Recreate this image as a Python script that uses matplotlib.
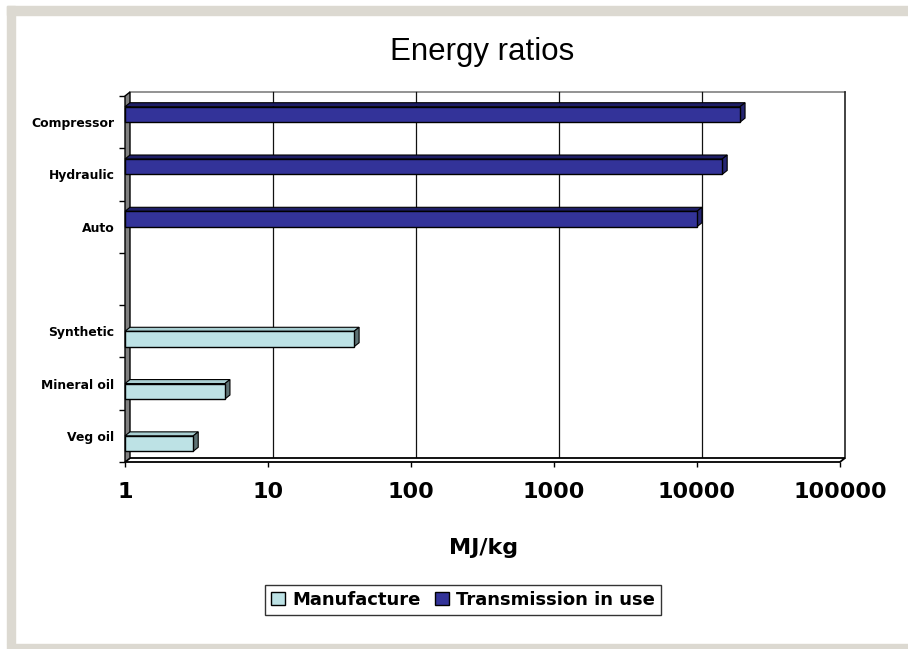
import numpy as np
import matplotlib
matplotlib.use('Agg')
import matplotlib.pyplot as plt
from matplotlib.patches import Polygon, Rectangle, Patch
from matplotlib.ticker import NullLocator

# ---------------- data ----------------
categories = ['Veg oil', 'Mineral oil', 'Synthetic', '', 'Auto', 'Hydraulic', 'Compressor']
manufacture = [3, 5, 40, np.nan, np.nan, np.nan, np.nan]
transmission = [np.nan, np.nan, np.nan, np.nan, 10000, 15000, 20000]
x_ticks = [1, 10, 100, 1000, 10000, 100000]
x_tick_labels = ['1', '10', '100', '1000', '10000', '100000']
series_names = ['Manufacture', 'Transmission in use']
title = 'Energy ratios'
xlabel = 'MJ/kg'

# ---------------- style ----------------
W, H = 908, 649
frame_c = '#dcd9d1'
manu_front, manu_top, manu_side = '#bde2e5', '#a9cfd2', '#5e7274'
trans_front, trans_top, trans_side = '#333399', '#1e1e66', '#262673'

fig = plt.figure(figsize=(W / 100, H / 100), dpi=100)
fig.patch.set_facecolor('white')

# gray frame (top, left, bottom bands)
fig.patches.append(Rectangle((7 / W, 1 - 15 / H), 1 - 7 / W, 9 / H,
                             transform=fig.transFigure, color=frame_c, zorder=0))
fig.patches.append(Rectangle((7 / W, 5 / H), 8 / W, 1 - 11 / H,
                             transform=fig.transFigure, color=frame_c, zorder=0))
fig.patches.append(Rectangle((7 / W, 0), 1 - 7 / W, 5 / H,
                             transform=fig.transFigure, color=frame_c, zorder=0))

# front plane of the plot: x 125..840 px, y 96..462 px
L, R, T, B = 125, 840, 96, 462
ax = fig.add_axes([L / W, 1 - B / H, (R - L) / W, (B - T) / H])
ax.set_xscale('log')
ax.set_xlim(x_ticks[0], x_ticks[-1])
ax.set_ylim(0, len(categories))
ax.patch.set_visible(False)
for s in ax.spines.values():
    s.set_visible(False)

ndec = np.log10(x_ticks[-1] / x_ticks[0])
ppd = (R - L) / ndec
ppu = (B - T) / len(categories)
kx = 10 ** (5 / ppd)     # 3D depth: 5 px to the right
dy = 4 / ppu             # 3D depth: 4 px up
x0, x1 = x_ticks[0], x_ticks[-1]
ny = len(categories)

# back wall
ax.add_patch(Polygon([(x0 * kx, dy), (x1 * kx, dy), (x1 * kx, ny + dy), (x0 * kx, ny + dy)],
                     closed=True, facecolor='white', edgecolor='none', zorder=0, clip_on=False))
ax.plot([x0 * kx, x1 * kx], [ny + dy, ny + dy], color='#808080', lw=1.2, clip_on=False, zorder=1)
ax.plot([x1 * kx, x1 * kx], [dy, ny + dy], color='#222222', lw=1.2, clip_on=False, zorder=1)
for t in x_ticks[1:-1]:
    ax.plot([t * kx, t * kx], [dy, ny + dy], color='#111111', lw=0.9, clip_on=False, zorder=1)

# floor
ax.add_patch(Polygon([(x0, 0), (x1, 0), (x1 * kx, dy), (x0 * kx, dy)], closed=True,
                     facecolor='white', edgecolor='black', lw=1.3, zorder=2, clip_on=False))
# left wall
ax.add_patch(Polygon([(x0, 0), (x0, ny), (x0 * kx, ny + dy), (x0 * kx, dy)], closed=True,
                     facecolor='#808080', edgecolor='black', lw=1.0, zorder=2, clip_on=False))

h = 0.295


def bar3d(y0, v, front, top, side):
    ax.barh(y0, v - x0, left=x0, height=h, align='edge', color=front,
            edgecolor='black', lw=1.0, zorder=5, clip_on=False)
    ax.add_patch(Polygon([(x0, y0 + h), (v, y0 + h), (v * kx, y0 + h + dy), (x0 * kx, y0 + h + dy)],
                         closed=True, facecolor=top, edgecolor='black', lw=0.8, zorder=4, clip_on=False))
    ax.add_patch(Polygon([(v, y0), (v, y0 + h), (v * kx, y0 + h + dy), (v * kx, y0 + dy)],
                         closed=True, facecolor=side, edgecolor='black', lw=0.8, zorder=4, clip_on=False))


for i, v in enumerate(manufacture):
    if not np.isnan(v):
        bar3d(i + 0.5 - h, v, manu_front, manu_top, manu_side)
for i, v in enumerate(transmission):
    if not np.isnan(v):
        bar3d(i + 0.5, v, trans_front, trans_top, trans_side)

# y axis ticks & labels
ax.set_yticks(range(ny + 1))
ax.set_yticklabels([])
ax.set_yticks([i + 0.5 for i in range(ny)], minor=True)
ax.set_yticklabels(categories, minor=True, fontsize=8.9, fontweight='bold')
ax.tick_params(axis='y', which='major', direction='out', length=4.3, width=1, color='black')
ax.tick_params(axis='y', which='minor', length=0, pad=7.5)

# x axis ticks & labels
ax.set_xticks(x_ticks)
ax.xaxis.set_minor_locator(NullLocator())
ax.set_xticklabels(x_tick_labels, fontsize=16, fontweight='bold')
ax.tick_params(axis='x', which='major', direction='out', length=3.6, width=1, color='black', pad=11)

fig.text(482 / W, 1 - 52 / H, title, ha='center', va='center', fontsize=22.5,
         family='Liberation Sans')
fig.text(484 / W, 1 - 548 / H, xlabel, ha='center', va='center', fontsize=16,
         fontweight='bold')

leg = fig.legend(handles=[Patch(facecolor=manu_front, edgecolor='black'),
                          Patch(facecolor=trans_front, edgecolor='black')],
                 labels=series_names, loc='center', bbox_to_anchor=(463 / W, 1 - 600 / H),
                 ncol=2, frameon=True, fancybox=False, edgecolor='black',
                 prop=dict(weight='bold', size=13), handlelength=0.75, handleheight=0.75,
                 handletextpad=0.4, columnspacing=0.8, borderpad=0.35, borderaxespad=0)
leg.get_frame().set_linewidth(1.0)

fig.savefig('out.png', dpi=100, facecolor='white')
